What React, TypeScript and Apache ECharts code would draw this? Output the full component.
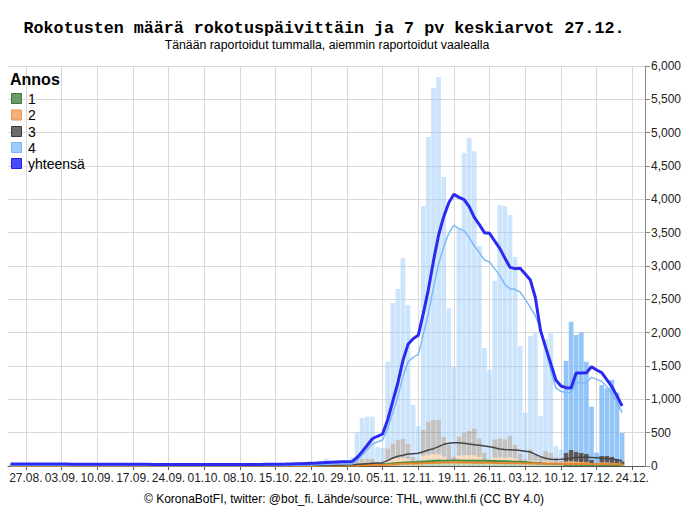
import React, { useEffect, useRef } from "react";
import * as echarts from "echarts";

// ---- categories: one per day, 24.08.2023 .. 26.12.2023 ----
const FIRST_DAY = [2023, 7, 24];
const DAY_COUNT = 125;
const LABEL_OFFSET = 3; // first labelled day 27.08.
const BAR_START = 56; // first day index with bar values (19.10.)
const DARK_START = 109; // days from 11.12. drawn darker (reported today)

const categories: string[] = [];
for (let i = 0; i < DAY_COUNT; i++) {
  const d = new Date(FIRST_DAY[0], FIRST_DAY[1], FIRST_DAY[2] + i);
  categories.push(
    String(d.getDate()).padStart(2, "0") + "." + String(d.getMonth() + 1).padStart(2, "0") + "."
  );
}

// ---- daily doses (stacked bars), from day index 56 ----
const dose1 = [
  10, 10, 3, 2, 12, 12, 14, 12, 12, 4, 3, 18,
  30, 30, 30, 28, 12, 12, 50, 60, 65, 70, 60, 25, 15,
  95, 105, 110, 110, 85, 50, 30, 95, 100, 100, 100, 85, 45, 25,
  80, 80, 80, 80, 70, 40, 20, 50, 45, 25, 45, 40, 15, 10,
  35, 35, 30, 30, 28, 15, 5, 25, 25, 22, 18, 10,
];
const dose2 = [
  5, 5, 2, 1, 6, 6, 8, 6, 6, 2, 2, 10,
  15, 18, 18, 17, 8, 8, 35, 45, 50, 50, 45, 20, 12,
  60, 65, 65, 65, 55, 30, 20, 60, 62, 62, 60, 50, 25, 15,
  45, 48, 45, 48, 40, 22, 15, 35, 30, 18, 30, 30, 12, 10,
  30, 35, 35, 30, 28, 15, 5, 28, 28, 25, 22, 12,
];
const dose3 = [
  10, 10, 3, 2, 12, 12, 18, 17, 17, 4, 3, 32,
  55, 62, 62, 60, 30, 30, 180, 235, 275, 285, 235, 95, 63,
  385, 495, 515, 525, 300, 235, 90, 285, 338, 363, 405, 280, 125, 60,
  275, 287, 275, 322, 205, 128, 65, 165, 90, 97, 155, 130, 103, 60,
  130, 170, 150, 135, 124, 60, 30, 97, 97, 93, 60, 48,
];
const dose4 = [
  20, 25, 7, 5, 30, 40, 70, 45, 35, 10, 7, 70,
  400, 610, 630, 635, 240, 220, 1300, 2105, 2265, 2715, 2075, 775, 510,
  3360, 4270, 4980, 5135, 3895, 2050, 1350, 3130, 4200, 4395, 4155, 2885, 1575, 1340,
  2380, 3500, 3500, 3315, 2820, 1610, 700, 1700, 1835, 610, 1670, 1790, 170, 170,
  1380, 1925, 1750, 1810, 1385, 800, 160, 1065, 1015, 1150, 1000, 425,
];

// ---- 7 day averages, from day index 0 ----
const avgTotal = [
  31, 31, 30, 30, 30, 30, 30, 30, 29, 29, 29, 29, 28, 28,
  28, 28, 27, 27, 27, 27, 26, 26, 26, 26, 25, 25, 25, 25,
  24, 24, 24, 24, 23, 23, 23, 23, 23, 22, 22, 22, 22, 22,
  22, 22, 22, 22, 23, 23, 24, 24, 25, 26, 27, 28, 29, 31,
  33, 35, 38, 41, 44, 48, 52, 56, 59, 62, 64, 66,
  128, 215, 312, 409, 446, 480, 690, 970, 1245, 1585, 1825, 1910, 1960, 2290,
  2650, 3080, 3465, 3740, 3950, 4075, 4030, 3995, 3890, 3730, 3620, 3500, 3490, 3375,
  3265, 3120, 2980, 2960, 2965, 2880, 2790, 2520, 2030, 1780, 1540, 1290, 1200, 1175,
  1170, 1395, 1395, 1400, 1490, 1440, 1400, 1295, 1190, 1050, 900,
];
const avgDose4 = [
  7, 7, 7, 7, 7, 7, 7, 7, 7, 7, 7, 7, 6, 6,
  6, 6, 6, 6, 6, 6, 6, 6, 6, 6, 6, 6, 6, 6,
  5, 5, 5, 5, 5, 5, 5, 5, 5, 5, 5, 5, 5, 5,
  5, 5, 5, 5, 6, 6, 6, 6, 7, 7, 8, 8, 9, 10,
  11, 12, 14, 16, 18, 21, 24, 27, 29, 30, 31, 30,
  80, 160, 245, 330, 360, 390, 560, 800, 1040, 1340, 1560, 1630, 1670, 1970,
  2290, 2680, 3030, 3290, 3490, 3610, 3560, 3530, 3430, 3300, 3200, 3090, 3060, 2960,
  2860, 2720, 2660, 2650, 2610, 2500, 2380, 2250, 2060, 1800, 1430, 1170, 1120, 1100,
  1100, 1250, 1250, 1250, 1330, 1300, 1270, 1190, 1080, 950, 800,
];
const avgDose3 = [
  11, 11, 11, 11, 11, 11, 11, 11, 11, 11, 10, 10, 10, 10,
  10, 10, 10, 10, 10, 10, 10, 10, 10, 10, 10, 10, 10, 10,
  9, 9, 9, 9, 9, 9, 9, 9, 9, 9, 9, 9, 9, 9,
  9, 9, 9, 9, 9, 9, 9, 9, 9, 9, 9, 9, 9, 9,
  10, 10, 10, 10, 11, 12, 13, 14, 15, 16, 17, 20,
  25, 30, 35, 40, 45, 50, 80, 120, 145, 160, 180, 185, 190, 215,
  240, 260, 290, 325, 340, 350, 350, 340, 330, 320, 310, 300, 290, 275,
  255, 248, 244, 240, 232, 222, 210, 175, 140, 115, 100, 98, 102, 108,
  115, 128, 132, 130, 128, 125, 118, 112, 105, 95, 80,
];
const avgDose2 = [
  5, 5, 5, 5, 5, 5, 5, 5, 5, 5, 5, 5, 5, 5,
  5, 5, 5, 5, 5, 5, 5, 5, 5, 5, 5, 5, 5, 5,
  5, 5, 5, 5, 5, 5, 5, 5, 5, 5, 5, 5, 5, 5,
  5, 5, 5, 5, 5, 5, 5, 5, 5, 5, 5, 5, 5, 5,
  5, 5, 5, 5, 5, 6, 6, 6, 6, 6, 6, 6,
  8, 10, 12, 14, 14, 15, 19, 24, 29, 33, 36, 37, 38, 42,
  45, 48, 50, 51, 51, 52, 52, 51, 51, 50, 49, 48, 47, 45,
  44, 43, 42, 41, 40, 39, 38, 36, 34, 33, 32, 32, 31, 31,
  31, 31, 31, 30, 30, 30, 29, 29, 28, 28, 27,
];
const avgDose1 = [
  8, 8, 8, 8, 8, 8, 8, 8, 8, 8, 8, 8, 8, 8,
  8, 8, 8, 8, 8, 8, 8, 8, 8, 8, 8, 8, 8, 8,
  8, 8, 8, 8, 8, 8, 8, 8, 8, 8, 8, 8, 8, 8,
  8, 8, 8, 8, 8, 8, 8, 8, 8, 8, 8, 8, 8, 8,
  8, 8, 8, 8, 9, 9, 9, 10, 10, 10, 10, 10,
  14, 18, 21, 24, 25, 26, 31, 38, 45, 50, 55, 56, 57, 63,
  69, 74, 79, 80, 80, 81, 81, 80, 80, 79, 78, 77, 76, 74,
  72, 70, 68, 65, 62, 58, 52, 46, 40, 36, 33, 30, 28, 27,
  26, 25, 24, 24, 23, 22, 22, 21, 20, 20, 19,
];

const TITLE = "Rokotusten määrä rokotuspäivittäin ja 7 pv keskiarvot 27.12.";
const SUBTITLE = "Tänään raportoidut tummalla, aiemmin raportoidut vaalealla";
const FOOTER = "© KoronaBotFI, twitter: @bot_fi. Lähde/source: THL, www.thl.fi (CC BY 4.0)";
const LEGEND_TITLE = "Annos";
const LEGEND_NAMES = ["1", "2", "3", "4", "yhteensä"];

const SANS = '"Liberation Sans", Arial, sans-serif';

export default function App() {
  const ref = useRef<HTMLDivElement>(null);

  useEffect(() => {
    document.body.style.margin = "0";
    document.body.style.overflow = "hidden";
    if (!ref.current) return;
    const chart = echarts.init(ref.current, undefined, { renderer: "svg" });

    const pad = new Array(BAR_START).fill(null);
    const barData = (vals: number[], light: string, dark: string) => [
      ...pad,
      ...vals.map((v, k) => ({
        value: v,
        itemStyle: { color: BAR_START + k >= DARK_START ? dark : light },
      })),
    ];

    const tickFn = (idx: number) => (idx - LABEL_OFFSET) % 7 === 0;

    const barBase = {
      type: "bar" as const,
      stack: "doses",
      barCategoryGap: "8%",
      silent: true,
    };
    const lineBase = {
      type: "line" as const,
      showSymbol: false,
      symbol: "none",
      silent: true,
    };

    const legendColors = [
      { fill: "#6a9c6a", stroke: "#3f7a3f" },
      { fill: "#f4b07c", stroke: "#e8924e" },
      { fill: "#6b6b6b", stroke: "#3a3a3a" },
      { fill: "#9ecbf9", stroke: "#7fb8f2" },
      { fill: "#4a4aff", stroke: "#2222dd" },
    ];
    const legendY = [93, 109.5, 126, 142, 158];

    const centered = (text: string, x: number, y: number, font: string) => ({
      type: "text",
      x,
      y,
      style: {
        text,
        font,
        fill: "#000",
        align: "center",
        verticalAlign: "middle",
        textAlign: "center",
        textVerticalAlign: "middle",
      },
    });

    const graphics: any[] = [
      centered(TITLE, 324, 28, 'bold 16.7px "Liberation Mono", "Courier New", monospace'),
      centered(SUBTITLE, 327, 45, "12.3px " + SANS),
      centered(FOOTER, 344, 499, "12px " + SANS),
      {
        type: "text",
        x: 10,
        y: 79,
        z: 100,
        style: {
          text: LEGEND_TITLE,
          font: "bold 16px " + SANS,
          fill: "#000",
          align: "left",
          verticalAlign: "middle",
          textAlign: "left",
          textVerticalAlign: "middle",
        },
      },
    ];
    LEGEND_NAMES.forEach((name, k) => {
      graphics.push({
        type: "rect",
        z: 100,
        shape: { x: 11.5, y: legendY[k] + 0.5, width: 10, height: 10 },
        style: { fill: legendColors[k].fill, stroke: legendColors[k].stroke, lineWidth: 1 },
      });
      graphics.push({
        type: "text",
        z: 100,
        x: 28,
        y: legendY[k] + 5.5,
        style: {
          text: name,
          font: "14px " + SANS,
          fill: "#000",
          align: "left",
          verticalAlign: "middle",
          textAlign: "left",
          textVerticalAlign: "middle",
        },
      });
    });

    chart.setOption({
      animation: false,
      backgroundColor: "#fff",
      grid: { left: 8, right: 43, top: 66, bottom: 43, containLabel: false },
      xAxis: {
        type: "category",
        data: categories,
        boundaryGap: true,
        axisLine: { show: true, lineStyle: { color: "#555", width: 1 } },
        axisTick: {
          show: true,
          alignWithLabel: true,
          interval: tickFn,
          length: 4,
          lineStyle: { color: "#555" },
        },
        axisLabel: {
          interval: tickFn,
          margin: 6,
          fontSize: 12,
          fontFamily: SANS,
          color: "#222",
        },
        splitLine: {
          show: true,
          interval: tickFn,
          alignWithLabel: true,
          lineStyle: { color: "#d9d9d9", width: 1 },
        } as any,
      },
      yAxis: {
        type: "value",
        position: "right",
        min: 0,
        max: 6000,
        interval: 500,
        axisLine: { show: true, lineStyle: { color: "#888" } },
        axisTick: { show: true, length: 5, lineStyle: { color: "#888" } },
        axisLabel: {
          margin: 6,
          fontSize: 12,
          fontFamily: SANS,
          color: "#222",
          formatter: (v: number) => v.toLocaleString("en-US"),
        },
        splitLine: { show: true, lineStyle: { color: "#d9d9d9", width: 1 } },
      },
      graphic: graphics,
      series: [
        { ...barBase, name: "1", data: barData(dose1, "rgba(100,160,100,0.45)", "rgba(60,120,60,0.85)") },
        { ...barBase, name: "2", data: barData(dose2, "rgba(245,170,100,0.45)", "rgba(235,145,65,0.85)") },
        { ...barBase, name: "3", data: barData(dose3, "rgba(120,120,120,0.45)", "rgba(60,60,60,0.85)") },
        { ...barBase, name: "4", data: barData(dose4, "rgba(155,203,250,0.5)", "rgba(120,182,247,0.8)") },
        { ...lineBase, name: "k1", data: avgDose1, lineStyle: { color: "#4a8a3a", width: 2 } },
        { ...lineBase, name: "k2", data: avgDose2, lineStyle: { color: "#e8882e", width: 2 } },
        { ...lineBase, name: "k3", data: avgDose3, lineStyle: { color: "#444444", width: 1.5 } },
        { ...lineBase, name: "k4", data: avgDose4, lineStyle: { color: "#7dbaf7", width: 1.5 } },
        { ...lineBase, name: "yhteensä", data: avgTotal, lineStyle: { color: "#2a2af0", width: 3 } },
      ],
    });

    return () => chart.dispose();
  }, []);

  return <div ref={ref} style={{ width: 688, height: 509 }} />;
}
